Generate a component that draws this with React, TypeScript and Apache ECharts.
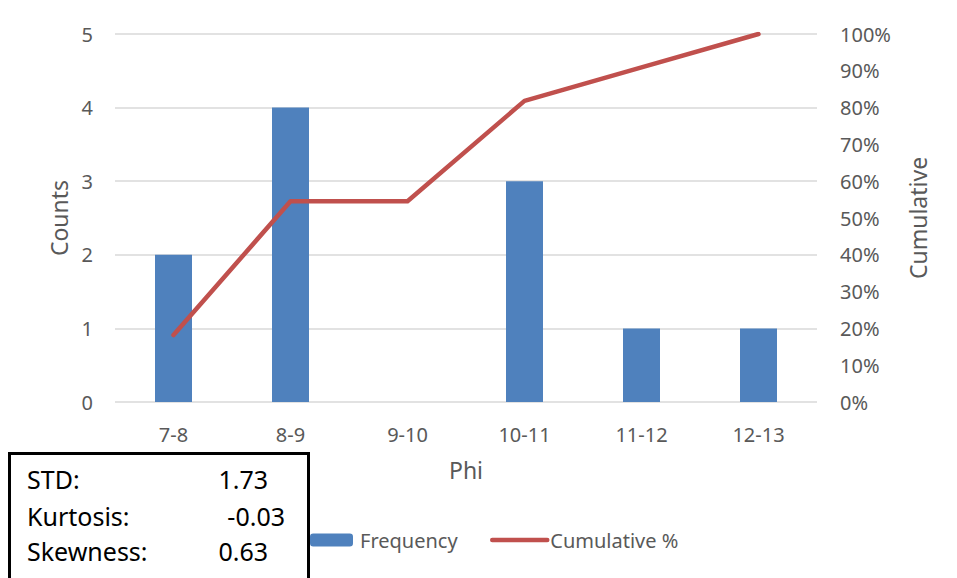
import React, { useEffect, useRef } from "react";
import * as echarts from "echarts";

const categories = ["7-8", "8-9", "9-10", "10-11", "11-12", "12-13"];
const frequency = [2, 4, 0, 3, 1, 1];
const cumulative = [0.1818, 0.5455, 0.5455, 0.8182, 0.9091, 1.0];
const statLabels = ["STD:", "Kurtosis:", "Skewness:"];
const statValues = ["1.73", "-0.03", "0.63"];

const FONT = "Noto Sans";
const GREY = "#595959";

export default function App() {
  const ref = useRef<HTMLDivElement>(null);
  useEffect(() => {
    if (!ref.current) return;
    const chart = echarts.init(ref.current, null, { renderer: "svg" });
    const statRight = [268, 285, 268];
    const baselines = [490, 527, 562];
    const statTexts: any[] = [];
    statLabels.forEach((l, i) => {
      statTexts.push({
        type: "text",
        left: 27,
        top: baselines[i] - 24,
        z: 101,
        style: { text: l, font: `25px "${FONT}"`, fill: "#000" },
      });
      statTexts.push({
        type: "text",
        right: 957 - statRight[i],
        top: baselines[i] - 24,
        z: 101,
        style: { text: statValues[i], font: `25px "${FONT}"`, fill: "#000", textAlign: "right" },
      });
    });
    chart.setOption({
      animation: false,
      textStyle: { fontFamily: FONT },
      grid: { left: 115, right: 140, top: 34, bottom: 176 },
      legend: [
        {
          data: ["Frequency"],
          left: 310,
          top: 530,
          itemWidth: 43,
          itemHeight: 13,
          itemGap: 0,
          textStyle: { fontSize: 20, color: GREY, fontFamily: FONT, padding: [0, 0, 0, 2] },
          padding: 0,
        },
        {
          data: ["Cumulative %"],
          left: 490,
          top: 530,
          itemWidth: 55,
          itemHeight: 13,
          itemStyle: { opacity: 0 },
          lineStyle: { width: 4.5, cap: "round" },
          textStyle: { fontSize: 20, color: GREY, fontFamily: FONT, padding: [0, 0, 0, -2] },
          padding: 0,
        },
      ],
      xAxis: {
        type: "category",
        data: categories,
        name: "Phi",
        nameLocation: "middle",
        nameGap: 56,
        nameTextStyle: { fontSize: 23, color: GREY, fontFamily: FONT, verticalAlign: "top" },
        axisLine: { show: false },
        axisTick: { show: false },
        axisLabel: { fontSize: 20, color: GREY, margin: 22 },
      },
      yAxis: [
        {
          type: "value",
          min: 0,
          max: 5,
          interval: 1,
          name: "Counts",
          nameLocation: "middle",
          nameGap: 43,
          nameTextStyle: { fontSize: 23, color: GREY, fontFamily: FONT },
          axisLabel: { fontSize: 20, color: GREY, margin: 22 },
          splitLine: { lineStyle: { color: "#d9d9d9", width: 1.5 } },
          axisLine: { show: false },
          axisTick: { show: false },
        },
        {
          type: "value",
          min: 0,
          max: 1,
          interval: 0.1,
          name: "Cumulative",
          nameLocation: "middle",
          nameGap: 89,
          nameRotate: 90,
          nameTextStyle: { fontSize: 23, color: GREY, fontFamily: FONT },
          axisLabel: {
            fontSize: 20,
            color: GREY,
            margin: 23,
            formatter: (v: number) => Math.round(v * 100) + "%",
          },
          splitLine: { show: false },
          axisLine: { show: false },
          axisTick: { show: false },
        },
      ],
      series: [
        {
          name: "Frequency",
          type: "bar",
          data: frequency,
          barWidth: 37,
          itemStyle: { color: "#4f81bd" },
        },
        {
          name: "Cumulative %",
          type: "line",
          yAxisIndex: 1,
          data: cumulative,
          symbol: "none",
          lineStyle: { color: "#c0504d", width: 4.5, cap: "round", join: "round" },
          itemStyle: { color: "#c0504d" },
        },
      ],
      graphic: [
        {
          type: "rect",
          left: 8,
          top: 452,
          z: 100,
          shape: { width: 299, height: 150 },
          style: { fill: "#fff", stroke: "#000", lineWidth: 3 },
        },
        ...statTexts,
      ],
    });
    return () => chart.dispose();
  }, []);
  return <div ref={ref} style={{ width: 957, height: 578, marginLeft: -8, marginTop: -8 }} />;
}
